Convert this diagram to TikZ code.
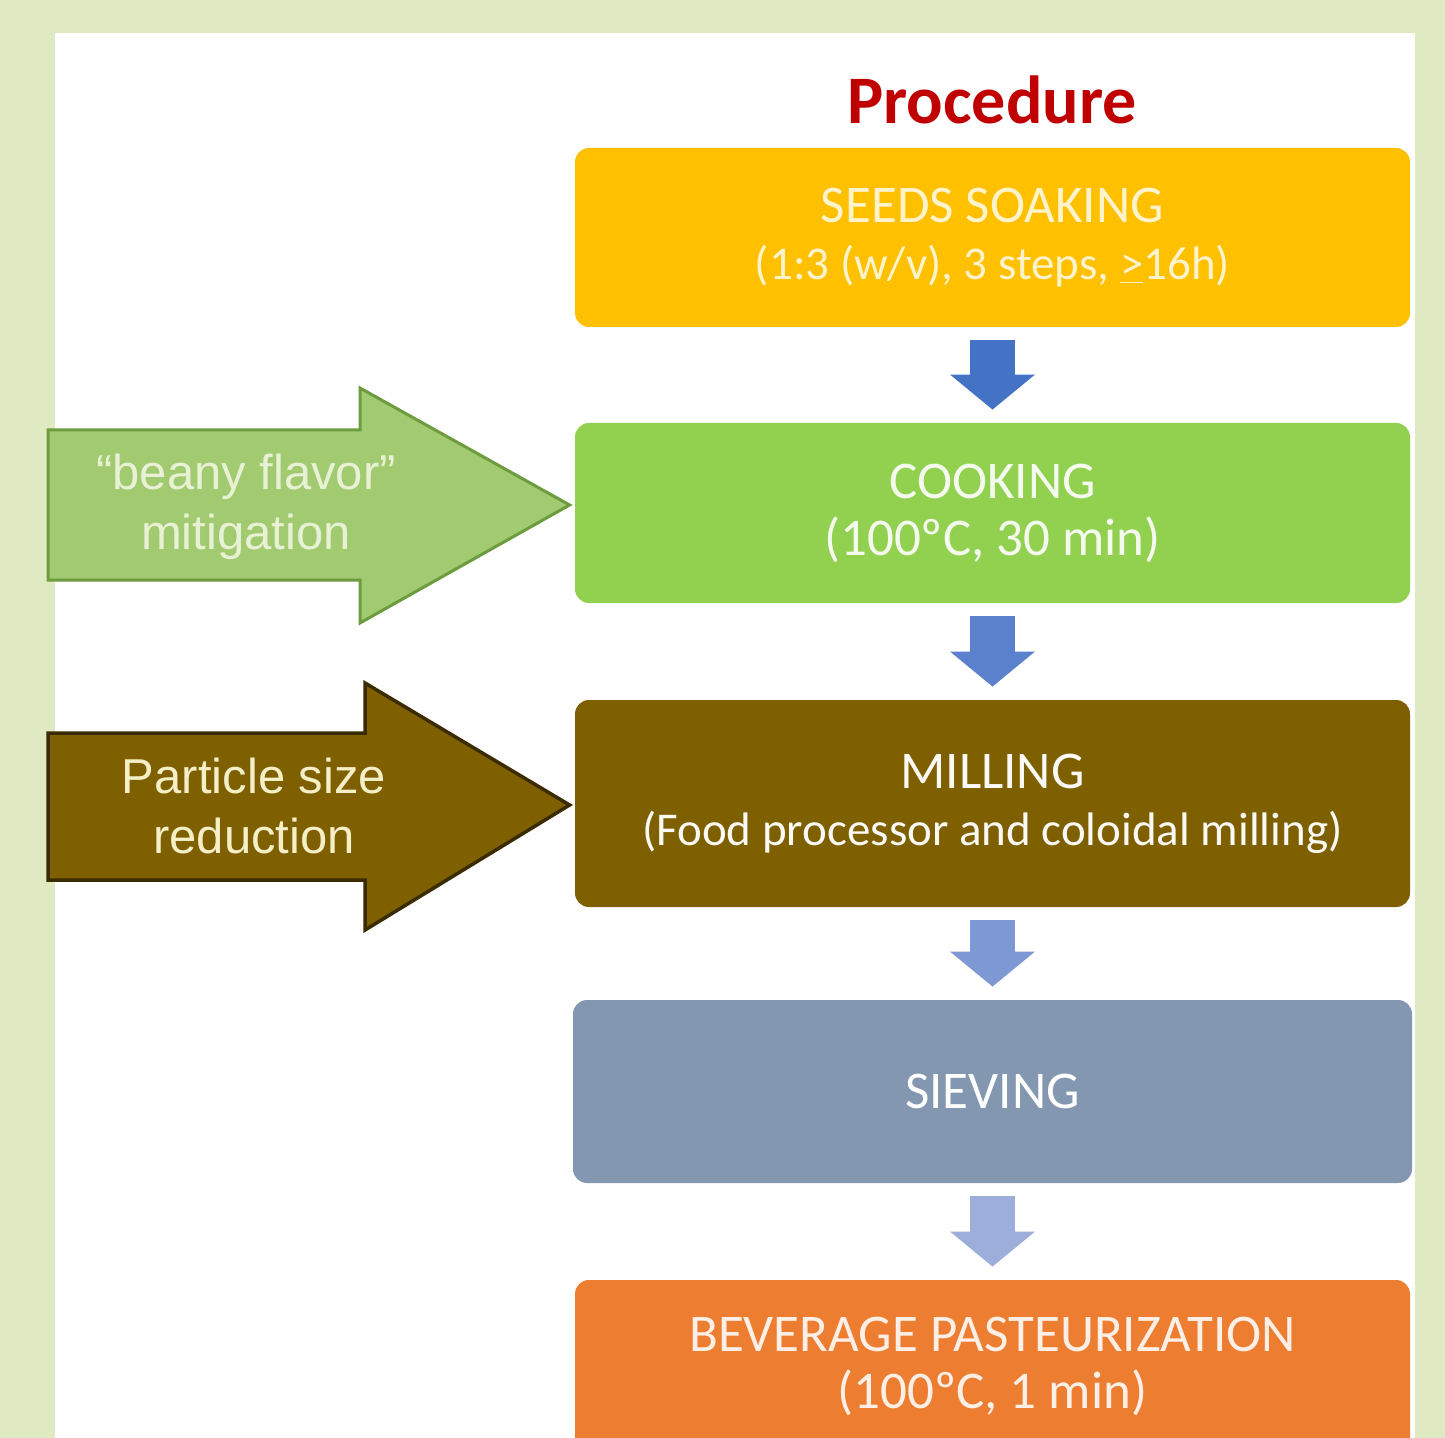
\documentclass[tikz,border=0pt]{standalone}
\usepackage{fontspec}
\setmainfont{Carlito}
\newfontfamily\arialfont{Liberation Sans}
\usetikzlibrary{arrows.meta,calc}

\definecolor{pagebg}{HTML}{E0EAC2}
\definecolor{titlered}{HTML}{C00000}
\definecolor{soakcol}{HTML}{FFC000}
\definecolor{cookcol}{HTML}{92D050}
\definecolor{millcol}{HTML}{7F6000}
\definecolor{sievecol}{HTML}{8497B0}
\definecolor{pastcol}{HTML}{ED7D31}
\definecolor{flowa}{HTML}{4472C4}
\definecolor{flowb}{HTML}{5B80CC}
\definecolor{flowc}{HTML}{7E98D4}
\definecolor{flowd}{HTML}{9DAEDB}
\definecolor{beanyfill}{HTML}{A2CA70}
\definecolor{beanyline}{HTML}{6C9C3E}
\definecolor{beanytext}{HTML}{E8F1D4}
\definecolor{particleline}{HTML}{3A2C00}
\definecolor{particletext}{HTML}{F4EFC6}

\newcommand\smallline[1]{{\fontsize{23.5}{28}\selectfont #1}}

\begin{document}
\begin{tikzpicture}[x=0.5pt, y=-0.5pt,
stage/.style={rounded corners=7pt, minimum width=417.5pt, align=center, inner sep=0pt,
  font=\fontsize{26.5}{28.5}\selectfont},
flow/.style={draw=#1, line width=22.5pt, -{Triangle[width=41.5pt,length=17.5pt]},
  shorten <=6.5pt, shorten >=6.5pt},
side/.style={line join=miter},
sidetext/.style={align=center, inner sep=0pt, font=\arialfont\fontsize{24.5}{30}\selectfont}]
\useasboundingbox (0,0) rectangle (1445,1438);
\clip (0,0) rectangle (1445,1438);
\fill[pagebg] (0,0) rectangle (1445,1438);
\fill[white] (55,33) rectangle (1415,1460);

\node[font=\bfseries\fontsize{34}{40}\selectfont, text=titlered] (title) at (992,100) {Procedure};

\node[stage, fill=soakcol, text=soakcol!20!white, minimum height=89.5pt] (soak) at (992.5,237.5)
	{SEEDS SOAKING\\\smallline{(1:3 (w/v), 3 steps, \underline{>}16h)}};
\node[stage, fill=cookcol, text=cookcol!10!white, minimum height=90pt] (cook) at (992.5,513)
	{COOKING\\(100ºC, 30 min)};
\node[stage, fill=millcol, text=millcol!4!white, minimum height=103.5pt] (mill) at (992.5,803.5)
	{MILLING\\\smallline{(Food processor and coloidal milling)}};
\node[stage, fill=sievecol, text=white, minimum height=91.5pt, minimum width=419.5pt] (sieve) at (992.5,1091.5)
	{SIEVING};
\node[stage, fill=pastcol, text=pastcol!12!white, minimum height=86pt] (past) at (992.5,1366)
	{BEVERAGE PASTEURIZATION\\(100ºC, 1 min)};

\draw[flow=flowa] (soak) -- (cook);
\draw[flow=flowb] (cook) -- (mill);
\draw[flow=flowc] (mill) -- (sieve);
\draw[flow=flowd] (sieve) -- (past);

% side arrows
\coordinate (beanytip) at ($(cook.west)+(-5,-8)$);
\draw[side, fill=beanyfill, draw=beanyline, line width=1.5pt]
	(48,430) -- (360,430) -- (360,388) -- (beanytip) -- (360,623) -- (360,580) -- (48,580) -- cycle;
\node[sidetext, text=beanytext] (beany) at (246,507) {“beany flavor”\\mitigation};

\coordinate (milltip) at ($(mill.west)+(-5,1.5)$);
\draw[side, fill=millcol, draw=particleline, line width=1.75pt]
	(48,733) -- (365,733) -- (365,683) -- (milltip) -- (365,930) -- (365,880) -- (48,880) -- cycle;
\node[sidetext, text=particletext] (particle) at (254,806) {Particle size\\reduction};
%\draw[flow=flowa] (title) -- (soak);
\end{tikzpicture}
\end{document}
